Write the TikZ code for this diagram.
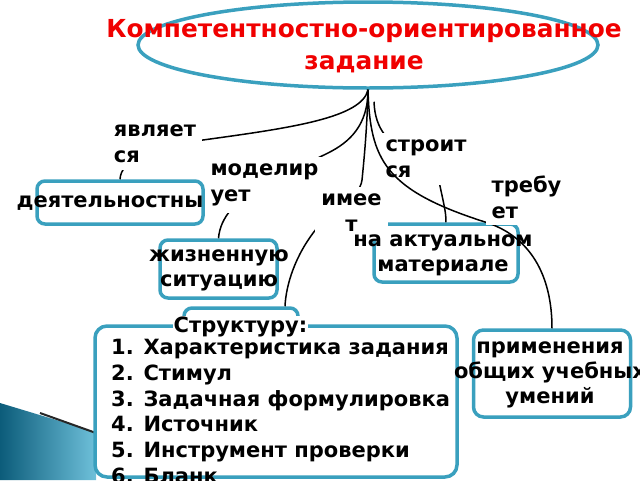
\documentclass[tikz,border=0pt]{standalone}
\usepackage{fontspec}
\setmainfont{DejaVu Sans}
\usetikzlibrary{shapes.geometric,calc}
\definecolor{boxline}{RGB}{58,160,190}
\definecolor{titlered}{RGB}{240,0,0}
\definecolor{decodark}{RGB}{12,92,122}
\definecolor{decolight}{RGB}{110,192,218}
\begin{document}
\begin{tikzpicture}[x=1pt,y=-1pt,
    frame/.style={draw=boxline,line width=3.5pt,fill=white,rounded corners=8pt,inner sep=0pt},
    rel/.style={fill=white,inner xsep=6pt,inner ysep=7pt,font=\fontsize{21}{26}\selectfont\bfseries},
    txt/.style={inner sep=0pt,font=\fontsize{21}{25}\selectfont\bfseries},
    link/.style={black,line width=1.5pt}]
    \useasboundingbox (0,0) rectangle (640,480);
    \shade[left color=decodark,right color=decolight] (0,403) -- (96,432) -- (96,480) -- (0,480) -- cycle;
    \draw[black!85,line width=2pt] (40,413) -- (96,433);
    \node[ellipse,draw=boxline,line width=3.5pt,minimum width=460pt,minimum height=86pt,inner sep=0pt] (task) at (368,45) {};
    \node[align=center,text=titlered,inner sep=0pt,font=\fontsize{24.8}{32}\selectfont\bfseries] (title) at (364,46) {Компетентностно-ориентированное\\задание};
    \node[frame,minimum width=166pt,minimum height=43pt] (dey) at (120,202.5) {};
    \node[frame,minimum width=117pt,minimum height=58pt] (jiz) at (218.5,269) {};
    \node[frame,minimum width=144pt,minimum height=58pt] (akt) at (446,253) {};
    \node[frame,rounded corners=12pt,minimum width=362pt,minimum height=151pt] (spis) at (276,401.5) {};
    \node[frame,minimum width=114pt,minimum height=28pt] (str) at (241,322) {};
    \node[frame,rounded corners=10pt,minimum width=157pt,minimum height=87pt] (prim) at (552,373.5) {};
    \draw[link] (task.south) .. controls (362,118) and (290,128) .. (203,140)
        .. controls (150,147) and (121,160) .. (dey.north);
    \node[rel,align=left] (yav) at (155,144) {являет\\ся};
    \draw[link] (task.south) .. controls (368,125) and (350,142) .. (328,153)
        .. controls (284,175) and (222,195) .. (jiz.north);
    \node[rel,align=left] (mod) at (264.5,185) {моделир\\ует};
    \draw[link] (task.south) .. controls (367,130) and (364,160) .. (362,180)
        .. controls (360,198) and (328,214) .. (317,228)
        .. controls (295,255) and (286,285) .. ($(str.north)+(44,0)$);
    \node[rel,align=center] (ime) at (351.5,213) {имее\\т};
    \coordinate (sbeg) at ($(task.south)+(6,12)$);
    \draw[link] (sbeg) .. controls (376,160) and (435,150) .. (440,186)
        .. controls (444,205) and (446,212) .. (akt.north);
    \node[rel,align=left] (stro) at (426,159) {строит\\ся};
    \draw[link] (task.south) .. controls (370,160) and (385,190) .. (485,222)
        .. controls (530,236) and (552,275) .. (prim.north);
    \node[rel,align=left] (treb) at (526.5,197) {требу\\ет};
    \node[txt] (deytxt) at (110,203) {деятельностны};
    \node[txt,align=center] (jiztxt) at (219,270.5) {жизненную\\ситуацию};
    \node[txt,align=center] (akttxt) at (443,255) {на актуальном\\материале};
    \node[txt,fill=white,inner sep=1pt] (strtxt) at (240.5,327) {Структуру:};
    \node[txt,align=left,anchor=west,font=\fontsize{21}{25.75}\selectfont\bfseries] (spistxt) at (111,411.5)
        {1. Характеристика задания\\2. Стимул\\3. Задачная формулировка\\4. Источник\\5. Инструмент проверки\\6. Бланк};
    \node[txt,align=center] (primtxt) at (550,375) {применения\\общих учебных\\умений};
\end{tikzpicture}
\end{document}
